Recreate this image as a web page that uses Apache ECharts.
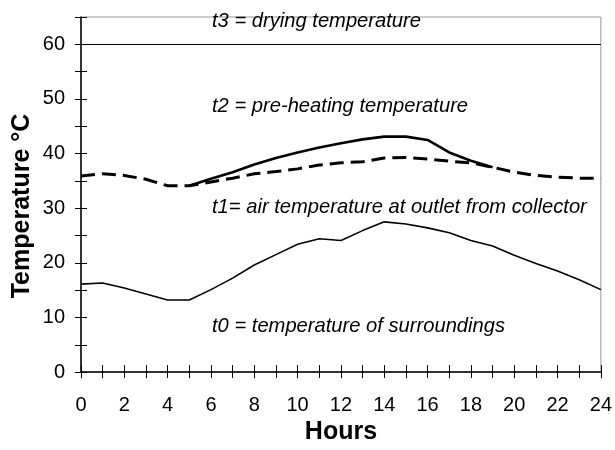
<!DOCTYPE html>
<html>
<head>
<meta charset="utf-8">
<script src="https://cdn.jsdelivr.net/npm/echarts@6/dist/echarts.min.js"></script>
<style>
  html, body { margin: 0; padding: 0; background: #fff; }
  #chart { width: 615px; height: 450px; }
</style>
</head>
<body>
<div id="chart"></div>
<script>
const hours = [0, 1, 2, 3, 4, 5, 6, 7, 8, 9, 10, 11, 12, 13, 14, 15, 16, 17, 18, 19, 20, 21, 22, 23, 24]
// t0 = temperature of surroundings
const t0 = [16.1, 16.3, 15.4, 14.3, 13.2, 13.2, 15.1, 17.2, 19.6, 21.5, 23.4, 24.4, 24.1, 25.9, 27.5, 27.1, 26.4, 25.5, 24.1, 23.1, 21.4, 19.9, 18.5, 16.9, 15.1]
// dashed curve
const t1 = [35.9, 36.3, 36.0, 35.3, 34.1, 34.1, 34.8, 35.5, 36.3, 36.7, 37.2, 37.9, 38.3, 38.5, 39.2, 39.3, 39.0, 38.6, 38.3, 37.5, 36.6, 36.0, 35.7, 35.5, 35.5]
// thick solid curve (5 h .. 19 h)
const t2 = [null, null, null, null, null, 34.1, 35.4, 36.6, 38.0, 39.2, 40.2, 41.1, 41.9, 42.6, 43.1, 43.1, 42.5, 40.2, 38.7, 37.5, null, null, null, null, null]
const t3 = 60
const notes = [
  't3 = drying temperature',
  't2 = pre-heating temperature',
  't1= air temperature at outlet from collector',
  't0 = temperature of surroundings',
]

const pairs = (ys) => hours.map((h, i) => [h, ys[i]])
const font = 'Liberation Sans, Arial, sans-serif'

const xBase = { type: 'value', min: 0, max: 24, interval: 1, gridIndex: 0 }
const yBase = { type: 'value', min: 0, max: 65, interval: 5, gridIndex: 0 }

const chart = echarts.init(document.getElementById('chart'))
chart.setOption({
  animation: false,
  grid: { left: 81, right: 9, top: 17, bottom: 71, show: true, borderColor: '#999', borderWidth: 1 },
  xAxis: [
    {
      ...xBase,
      name: 'Hours',
      nameLocation: 'middle',
      nameGap: 47,
      nameTextStyle: { fontFamily: font, fontWeight: 'bold', fontSize: 25, color: '#000' },
      axisLine: { lineStyle: { color: '#000', width: 1.5 } },
      axisTick: { length: 6, lineStyle: { color: '#000' } },
      axisLabel: {
        margin: 23, fontFamily: font, fontSize: 20, color: '#000',
        formatter: (v) => (v % 2 === 0 ? String(v) : ''),
      },
      splitLine: { show: false },
    },
    {
      ...xBase,
      position: 'bottom',
      axisLine: { show: false },
      axisTick: { inside: true, length: 7, lineStyle: { color: '#000' } },
      axisLabel: { show: false },
      splitLine: { show: false },
    },
  ],
  yAxis: [
    {
      ...yBase,
      axisLine: { lineStyle: { color: '#000', width: 1.5 } },
      axisTick: { length: 6, lineStyle: { color: '#000' } },
      axisLabel: {
        margin: 16, fontFamily: font, fontSize: 20, color: '#000',
        formatter: (v) => (v % 10 === 0 ? String(v) : ''),
      },
      splitLine: { show: false },
    },
    {
      ...yBase,
      position: 'left',
      axisLine: { show: false },
      axisTick: { inside: true, length: 6, lineStyle: { color: '#000' } },
      axisLabel: { show: false },
      splitLine: { show: false },
    },
  ],
  series: [
    {
      type: 'line',
      data: pairs(t0),
      showSymbol: false,
      lineStyle: { color: '#000', width: 1.6 },
      markLine: {
        silent: true,
        symbol: 'none',
        label: { show: false },
        lineStyle: { color: '#000', width: 1.2, type: 'solid' },
        data: [{ yAxis: t3 }],
      },
    },
    {
      type: 'line',
      data: pairs(t1),
      showSymbol: false,
      lineStyle: { color: '#000', width: 3, type: [14, 7] },
    },
    {
      type: 'line',
      data: pairs(t2),
      showSymbol: false,
      connectNulls: false,
      lineStyle: { color: '#000', width: 2.6 },
    },
  ],
})

// y axis title, centred a little below the plot middle as in the source
const noteTop = [11, 96, 197, 316]
chart.setOption({
  graphic: [
    {
      type: 'text',
      x: 22,
      y: 206,
      rotation: Math.PI / 2,
      style: {
        text: 'Temperature °C', fontFamily: font, fontWeight: 'bold', fontSize: 25,
        fill: '#000', align: 'center', verticalAlign: 'middle',
      },
    },
    ...notes.map((txt, i) => ({
      type: 'text',
      left: 212,
      top: noteTop[i],
      scaleX: 0.96,
      style: { text: txt, fontFamily: font, fontStyle: 'italic', fontSize: 21, fill: '#000' },
    })),
  ],
})
</script>
</body>
</html>
